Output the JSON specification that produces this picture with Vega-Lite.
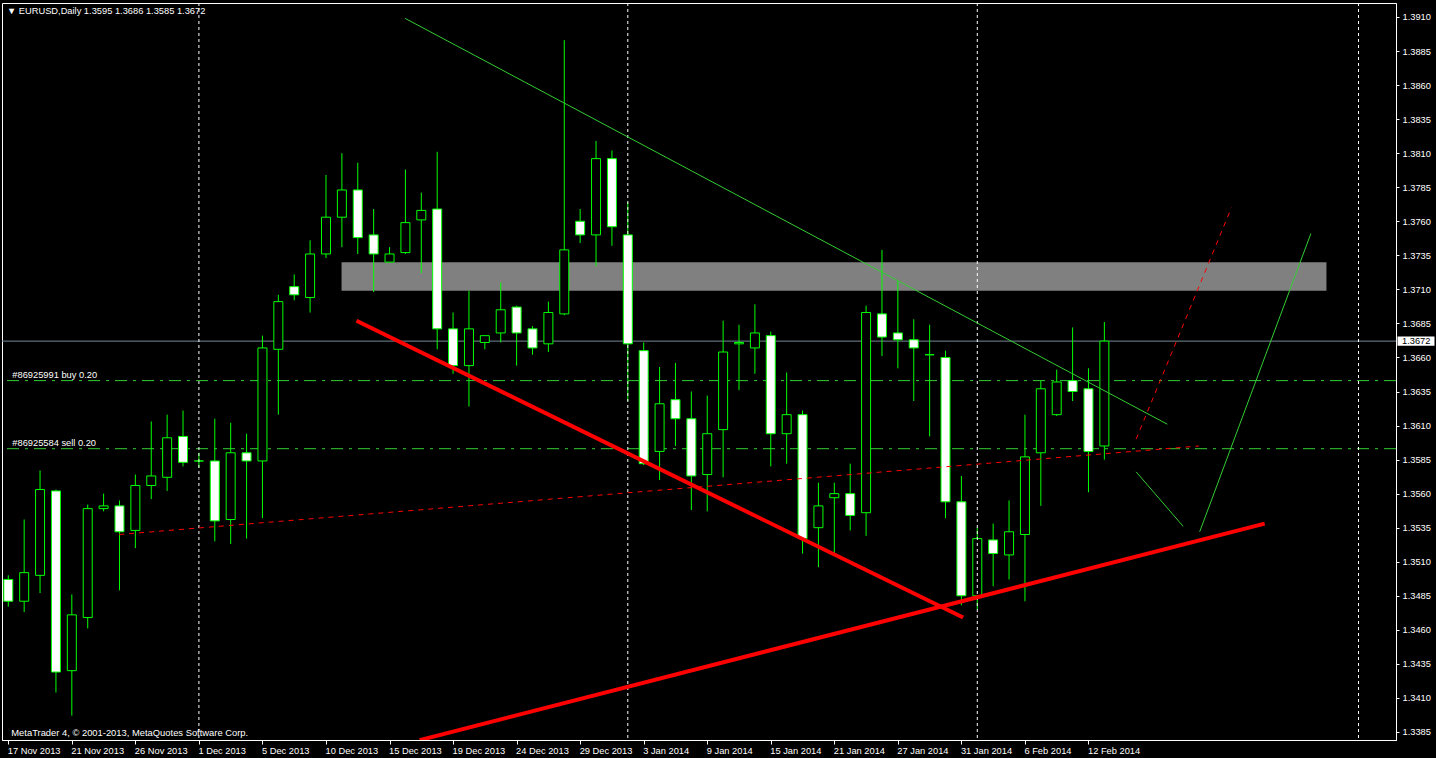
{
  "$schema": "https://vega.github.io/schema/vega-lite/v6.json",
  "width": 1394,
  "height": 737,
  "autosize": {"type": "none"},
  "padding": {"left": 2, "top": 3, "right": 40, "bottom": 18},
  "background": "#000000",
  "config": {
    "view": {"stroke": "#ffffff", "strokeWidth": 1, "fill": "#000000"},
    "font": "Liberation Sans",
    "axis": {"grid": false, "title": null, "domainColor": "#ffffff", "tickColor": "#ffffff", "labelColor": "#ffffff", "labelFontSize": 9.3, "labelFont": "Liberation Sans", "labelOverlap": false, "labelBound": false, "labelFlush": false}
  },
  "title": {"text": "▼  EURUSD,Daily  1.3595 1.3686 1.3585 1.3672", "anchor": "start", "frame": "group", "orient": "top", "offset": -23, "dx": 5, "fontSize": 9.3, "font": "Liberation Sans", "fontWeight": "normal", "color": "#ffffff", "baseline": "bottom"},
  "datasets": {
    "candles": [
      {"i":0,"o":1.3497,"h":1.3500,"l":1.3477,"c":1.3481},
      {"i":1,"o":1.3481,"h":1.3541,"l":1.3473,"c":1.3502},
      {"i":2,"o":1.3500,"h":1.3577,"l":1.3487,"c":1.3563},
      {"i":3,"o":1.3562,"h":1.3563,"l":1.3414,"c":1.3429},
      {"i":4,"o":1.3430,"h":1.3486,"l":1.3397,"c":1.3471},
      {"i":5,"o":1.3469,"h":1.3552,"l":1.3461,"c":1.3549},
      {"i":6,"o":1.3549,"h":1.3560,"l":1.3547,"c":1.3551},
      {"i":7,"o":1.3551,"h":1.3555,"l":1.3489,"c":1.3532},
      {"i":8,"o":1.3533,"h":1.3574,"l":1.3520,"c":1.3566},
      {"i":9,"o":1.3566,"h":1.3613,"l":1.3556,"c":1.3573},
      {"i":10,"o":1.3572,"h":1.3618,"l":1.3562,"c":1.3601},
      {"i":11,"o":1.3602,"h":1.3621,"l":1.3580,"c":1.3583},
      {"i":12,"o":1.3584,"h":1.3590,"l":1.3579,"c":1.3584},
      {"i":13,"o":1.3584,"h":1.3615,"l":1.3525,"c":1.3540},
      {"i":14,"o":1.3541,"h":1.3612,"l":1.3523,"c":1.3590},
      {"i":15,"o":1.3590,"h":1.3604,"l":1.3527,"c":1.3584},
      {"i":16,"o":1.3584,"h":1.3676,"l":1.3542,"c":1.3667},
      {"i":17,"o":1.3666,"h":1.3706,"l":1.3618,"c":1.3701},
      {"i":18,"o":1.3712,"h":1.3721,"l":1.3702,"c":1.3706},
      {"i":19,"o":1.3704,"h":1.3746,"l":1.3693,"c":1.3736},
      {"i":20,"o":1.3736,"h":1.3794,"l":1.3733,"c":1.3763},
      {"i":21,"o":1.3763,"h":1.3810,"l":1.3741,"c":1.3783},
      {"i":22,"o":1.3783,"h":1.3803,"l":1.3736,"c":1.3748},
      {"i":23,"o":1.3750,"h":1.3769,"l":1.3708,"c":1.3736},
      {"i":24,"o":1.3730,"h":1.3741,"l":1.3730,"c":1.3736},
      {"i":25,"o":1.3737,"h":1.3798,"l":1.3736,"c":1.3759},
      {"i":26,"o":1.3761,"h":1.3781,"l":1.3722,"c":1.3768},
      {"i":27,"o":1.3769,"h":1.3811,"l":1.3666,"c":1.3681},
      {"i":28,"o":1.3681,"h":1.3693,"l":1.3648,"c":1.3654},
      {"i":29,"o":1.3654,"h":1.3709,"l":1.3624,"c":1.3681},
      {"i":30,"o":1.3671,"h":1.3676,"l":1.3666,"c":1.3676},
      {"i":31,"o":1.3678,"h":1.3715,"l":1.3671,"c":1.3695},
      {"i":32,"o":1.3697,"h":1.3698,"l":1.3654,"c":1.3678},
      {"i":33,"o":1.3681,"h":1.3683,"l":1.3662,"c":1.3667},
      {"i":34,"o":1.3670,"h":1.3701,"l":1.3664,"c":1.3693},
      {"i":35,"o":1.3692,"h":1.3893,"l":1.3691,"c":1.3739},
      {"i":36,"o":1.3760,"h":1.3769,"l":1.3744,"c":1.3750},
      {"i":37,"o":1.3750,"h":1.3819,"l":1.3727,"c":1.3806},
      {"i":38,"o":1.3806,"h":1.3812,"l":1.3742,"c":1.3756},
      {"i":39,"o":1.3750,"h":1.3774,"l":1.3628,"c":1.3670},
      {"i":40,"o":1.3665,"h":1.3671,"l":1.3581,"c":1.3582},
      {"i":41,"o":1.3591,"h":1.3653,"l":1.3570,"c":1.3626},
      {"i":42,"o":1.3629,"h":1.3656,"l":1.3595,"c":1.3615},
      {"i":43,"o":1.3615,"h":1.3635,"l":1.3548,"c":1.3573},
      {"i":44,"o":1.3574,"h":1.3632,"l":1.3547,"c":1.3604},
      {"i":45,"o":1.3607,"h":1.3687,"l":1.3572,"c":1.3664},
      {"i":46,"o":1.3670,"h":1.3684,"l":1.3636,"c":1.3671},
      {"i":47,"o":1.3667,"h":1.3699,"l":1.3648,"c":1.3678},
      {"i":48,"o":1.3676,"h":1.3679,"l":1.3580,"c":1.3604},
      {"i":49,"o":1.3604,"h":1.3649,"l":1.3582,"c":1.3618},
      {"i":50,"o":1.3618,"h":1.3621,"l":1.3516,"c":1.3527},
      {"i":51,"o":1.3535,"h":1.3568,"l":1.3506,"c":1.3551},
      {"i":52,"o":1.3557,"h":1.3568,"l":1.3516,"c":1.3560},
      {"i":53,"o":1.3560,"h":1.3582,"l":1.3533,"c":1.3544},
      {"i":54,"o":1.3546,"h":1.3698,"l":1.3529,"c":1.3693},
      {"i":55,"o":1.3692,"h":1.3739,"l":1.3661,"c":1.3675},
      {"i":56,"o":1.3678,"h":1.3716,"l":1.3652,"c":1.3673},
      {"i":57,"o":1.3673,"h":1.3688,"l":1.3628,"c":1.3667},
      {"i":58,"o":1.3662,"h":1.3684,"l":1.3602,"c":1.3662},
      {"i":59,"o":1.3660,"h":1.3665,"l":1.3542,"c":1.3554},
      {"i":60,"o":1.3554,"h":1.3573,"l":1.3478,"c":1.3485},
      {"i":61,"o":1.3485,"h":1.3535,"l":1.3475,"c":1.3527},
      {"i":62,"o":1.3526,"h":1.3538,"l":1.3492,"c":1.3516},
      {"i":63,"o":1.3515,"h":1.3555,"l":1.3497,"c":1.3532},
      {"i":64,"o":1.3530,"h":1.3618,"l":1.3481,"c":1.3587},
      {"i":65,"o":1.3590,"h":1.3643,"l":1.3551,"c":1.3637},
      {"i":66,"o":1.3618,"h":1.3651,"l":1.3617,"c":1.3642},
      {"i":67,"o":1.3643,"h":1.3682,"l":1.3628,"c":1.3635},
      {"i":68,"o":1.3637,"h":1.3652,"l":1.3561,"c":1.3591},
      {"i":69,"o":1.3595,"h":1.3686,"l":1.3585,"c":1.3672}
    ],
    "zone": [{"start": 20.98, "end": 82.98, "top": 1.3730, "bottom": 1.3709}],
    "separators": [{"i": 12}, {"i": 39}, {"i": 61}, {"i": 85}],
    "orders": [
      {"label": "#86925991 buy 0.20", "price": 1.3643},
      {"label": "#86925584 sell 0.20", "price": 1.3593}
    ],
    "bid": [{"price": 1.3672}],
    "lines": [
      {"id": "s1", "kind": "support", "i": 21.92, "price": 1.3687},
      {"id": "s1", "kind": "support", "i": 60.11, "price": 1.3469},
      {"id": "s2", "kind": "support", "i": 25.9, "price": 1.3379},
      {"id": "s2", "kind": "support", "i": 79.09, "price": 1.3538},
      {"id": "t1", "kind": "trend", "i": 24.98, "price": 1.3909},
      {"id": "t1", "kind": "trend", "i": 72.96, "price": 1.3611},
      {"id": "t2", "kind": "trend", "i": 71.0, "price": 1.3576},
      {"id": "t2", "kind": "trend", "i": 73.96, "price": 1.3536},
      {"id": "t3", "kind": "trend", "i": 75.0, "price": 1.3532},
      {"id": "t3", "kind": "trend", "i": 82.0, "price": 1.3751},
      {"id": "d1", "kind": "dashed", "i": 6.98, "price": 1.3530},
      {"id": "d1", "kind": "dashed", "i": 74.96, "price": 1.3595},
      {"id": "d2", "kind": "dashed", "i": 71.0, "price": 1.3600},
      {"id": "d2", "kind": "dashed", "i": 77.0, "price": 1.3770}
    ],
    "note": [{"text": "MetaTrader 4, © 2001-2013, MetaQuotes Software Corp.", "i": 0, "price": 1.3384}]
  },
  "layer": [
    {
      "data": {"name": "zone"},
      "mark": {"type": "rect", "color": "#808080", "clip": true},
      "encoding": {
        "x": {"field": "start", "type": "quantitative", "scale": {"domain": [-0.081, 87.044], "nice": false, "zero": false},
              "axis": {"orient": "bottom", "values": [0,4,8,12,16,20,24,28,32,36,40,44,48,52,56,60,64,68], "tickCount": 40, "labelExpr": "['17 Nov 2013','21 Nov 2013','26 Nov 2013','1 Dec 2013','5 Dec 2013','10 Dec 2013','15 Dec 2013','19 Dec 2013','24 Dec 2013','29 Dec 2013','3 Jan 2014','9 Jan 2014','15 Jan 2014','21 Jan 2014','27 Jan 2014','31 Jan 2014','6 Feb 2014','12 Feb 2014'][round(datum.value/4)]", "labelAlign": "left", "labelPadding": 2, "labelOffset": -1, "tickSize": 4, "labelBaseline": "top", "labelOverlap": false}},
        "x2": {"field": "end"},
        "y": {"field": "top", "type": "quantitative", "scale": {"domain": [1.33791, 1.392028], "nice": false, "zero": false},
              "axis": {"orient": "right", "values": [1.3385,1.341,1.3435,1.346,1.3485,1.351,1.3535,1.356,1.3585,1.361,1.3635,1.366,1.3685,1.371,1.3735,1.376,1.3785,1.381,1.3835,1.386,1.3885,1.391], "tickCount": 40, "format": ".4f", "tickSize": 3, "labelPadding": 3, "labelAlign": "left", "labelBaseline": "middle", "labelOverlap": false}},
        "y2": {"field": "bottom"}
      }
    },
    {
      "data": {"name": "orders"},
      "mark": {"type": "rule", "color": "#32cd32", "strokeWidth": 1, "strokeDash": [12, 6, 3, 6]},
      "encoding": {"y": {"field": "price", "type": "quantitative"}}
    },
    {
      "data": {"name": "bid"},
      "mark": {"type": "rule", "color": "#778899", "strokeWidth": 1},
      "encoding": {"y": {"field": "price", "type": "quantitative"}}
    },
    {
      "data": {"name": "candles"},
      "mark": {"type": "rule", "color": "#00ff00", "strokeWidth": 1, "clip": true},
      "encoding": {
        "x": {"field": "i", "type": "quantitative"},
        "y": {"field": "l", "type": "quantitative"},
        "y2": {"field": "h"}
      }
    },
    {
      "data": {"name": "candles"},
      "mark": {"type": "bar", "orient": "vertical", "size": 9, "stroke": "#00ff00", "strokeWidth": 1, "clip": true},
      "encoding": {
        "x": {"field": "i", "type": "quantitative"},
        "y": {"field": "o", "type": "quantitative"},
        "y2": {"field": "c"},
        "fill": {"condition": {"test": "datum.o > datum.c", "value": "#ffffff"}, "value": "#000000"}
      }
    },
    {
      "data": {"name": "separators"},
      "mark": {"type": "rule", "color": "#ffffff", "strokeWidth": 1, "strokeDash": [3, 3]},
      "encoding": {"x": {"field": "i", "type": "quantitative"}}
    },
    {
      "data": {"name": "lines"},
      "transform": [{"filter": "datum.kind === 'dashed'"}],
      "mark": {"type": "line", "color": "#ff0000", "strokeWidth": 1, "strokeDash": [5, 5], "clip": true},
      "encoding": {
        "x": {"field": "i", "type": "quantitative"},
        "y": {"field": "price", "type": "quantitative"},
        "detail": {"field": "id"}
      }
    },
    {
      "data": {"name": "lines"},
      "transform": [{"filter": "datum.kind === 'trend'"}],
      "mark": {"type": "line", "color": "#32cd32", "strokeWidth": 1, "clip": true},
      "encoding": {
        "x": {"field": "i", "type": "quantitative"},
        "y": {"field": "price", "type": "quantitative"},
        "detail": {"field": "id"}
      }
    },
    {
      "data": {"name": "lines"},
      "transform": [{"filter": "datum.kind === 'support'"}],
      "mark": {"type": "line", "color": "#ff0000", "strokeWidth": 4, "clip": true},
      "encoding": {
        "x": {"field": "i", "type": "quantitative"},
        "y": {"field": "price", "type": "quantitative"},
        "detail": {"field": "id"}
      }
    },
    {
      "data": {"name": "orders"},
      "mark": {"type": "text", "color": "#ffffff", "fontSize": 9.3, "font": "Liberation Sans", "align": "left", "baseline": "middle", "dx": 4, "dy": -6},
      "encoding": {
        "x": {"datum": 0, "type": "quantitative"},
        "y": {"field": "price", "type": "quantitative"},
        "text": {"field": "label"}
      }
    },
    {
      "data": {"name": "note"},
      "mark": {"type": "text", "color": "#ffffff", "fontSize": 9.4, "font": "Liberation Sans", "align": "left", "baseline": "middle", "dx": 3},
      "encoding": {
        "x": {"field": "i", "type": "quantitative"},
        "y": {"field": "price", "type": "quantitative"},
        "text": {"field": "text"}
      }
    },
    {
      "data": {"name": "bid"},
      "mark": {"type": "point", "shape": "M-1,-0.25L1,-0.25L1,0.25L-1,0.25Z", "size": 1369, "filled": true, "fill": "#ffffff", "opacity": 1, "strokeWidth": 0, "xOffset": 20},
      "encoding": {
        "x": {"value": "width"},
        "y": {"field": "price", "type": "quantitative"}
      }
    },
    {
      "data": {"name": "bid"},
      "mark": {"type": "text", "color": "#000000", "fontSize": 9.3, "font": "Liberation Sans", "align": "left", "baseline": "middle", "dx": 6},
      "encoding": {
        "x": {"value": "width"},
        "y": {"field": "price", "type": "quantitative"},
        "text": {"field": "price", "type": "quantitative", "format": ".4f"}
      }
    }
  ]
}
